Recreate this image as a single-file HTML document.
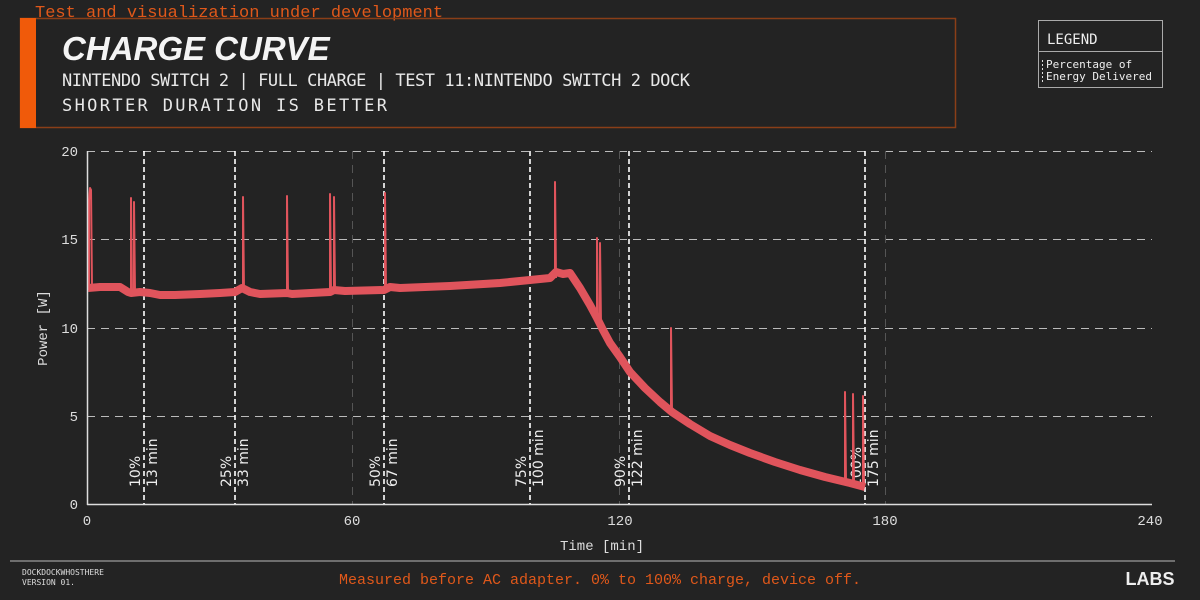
<!DOCTYPE html>
<html><head><meta charset="utf-8"><style>
body{margin:0;background:#232323;width:1200px;height:600px;overflow:hidden;font-family:"DejaVu Sans Mono","Liberation Mono",monospace;}
</style></head><body>
<svg width="1200" height="600" xmlns="http://www.w3.org/2000/svg" style="position:absolute;left:0;top:0">
<rect width="1200" height="600" fill="#232323"/>
<text x="35" y="17" fill="#e0581a" font-family="Liberation Mono,monospace" font-size="17">Test and visualization under development</text>
<rect x="20.5" y="18.5" width="935" height="109" fill="none" stroke="#8a3e18" stroke-width="1.5"/>
<rect x="20" y="18" width="16" height="110" fill="#f05a0a"/>
<text x="62" y="60" fill="#f4f4f4" font-family="Liberation Sans,sans-serif" font-weight="bold" font-style="italic" font-size="33">CHARGE CURVE</text>
<text x="62" y="86" fill="#e8e8e8" font-family="DejaVu Sans Mono,monospace" font-size="17" textLength="628">NINTENDO SWITCH 2 | FULL CHARGE | TEST 11:NINTENDO SWITCH 2 DOCK</text>
<text x="62" y="111" fill="#e8e8e8" font-family="DejaVu Sans Mono,monospace" font-size="17" textLength="327" letter-spacing="2">SHORTER DURATION IS BETTER</text>
<rect x="1038.5" y="20.5" width="124" height="67" fill="none" stroke="#aaa" stroke-width="1"/>
<line x1="1038" y1="51.5" x2="1163" y2="51.5" stroke="#aaa"/>
<text x="1047" y="44" fill="#eee" font-size="14">LEGEND</text>
<line x1="1042.5" y1="60" x2="1042.5" y2="82" stroke="#ddd" stroke-dasharray="2,2"/>
<text x="1046" y="68" fill="#eee" font-size="11">Percentage of</text>
<text x="1046" y="80" fill="#eee" font-size="11">Energy Delivered</text>
<g stroke="#bbb" stroke-width="1" stroke-dasharray="8,6">
<line x1="87" y1="151.5" x2="1152" y2="151.5"/><line x1="87" y1="239.5" x2="1152" y2="239.5"/><line x1="87" y1="328.5" x2="1152" y2="328.5"/><line x1="87" y1="416.5" x2="1152" y2="416.5"/>
</g>
<g stroke="#555" stroke-width="1" stroke-dasharray="8,6">
<line x1="352.5" y1="151" x2="352.5" y2="504"/><line x1="619.5" y1="151" x2="619.5" y2="504"/><line x1="885.5" y1="151" x2="885.5" y2="504"/>
</g>
<g stroke="#fff" stroke-width="1.6" stroke-dasharray="5,3">
<line x1="144" y1="151" x2="144" y2="504"/><line x1="235" y1="151" x2="235" y2="504"/><line x1="384" y1="151" x2="384" y2="504"/><line x1="530" y1="151" x2="530" y2="504"/><line x1="629" y1="151" x2="629" y2="504"/><line x1="865" y1="151" x2="865" y2="504"/>
</g>
<g fill="#eee" font-family="DejaVu Sans,sans-serif" font-size="14">
<text transform="translate(140,487) rotate(-90)">10%</text><text transform="translate(157,487) rotate(-90)">13 min</text>
<text transform="translate(231,487) rotate(-90)">25%</text><text transform="translate(248,487) rotate(-90)">33 min</text>
<text transform="translate(380,487) rotate(-90)">50%</text><text transform="translate(397,487) rotate(-90)">67 min</text>
<text transform="translate(526,487) rotate(-90)">75%</text><text transform="translate(543,487) rotate(-90)">100 min</text>
<text transform="translate(625,487) rotate(-90)">90%</text><text transform="translate(642,487) rotate(-90)">122 min</text>
<text transform="translate(861,487) rotate(-90)">100%</text><text transform="translate(878,487) rotate(-90)">175 min</text>
</g>
<g fill="none" stroke="#e0545c" stroke-linejoin="round">
<polyline stroke-width="8" points="88,288 100,287 120,287 128,292 131,293 140,292 150,293 160,295 175,295 200,294 220,293 235,292 242,288 250,292 260,294 287,293 292,294 330,292 334,290 345,291 384,290 390,287 400,288 450,286 500,283 530,280 550,278 556,272 563,274 570,273 580,288 590,305 597,318 603,330 610,343 620,357 630,372 645,388 660,402 672,412 690,424 710,436 730,445 750,453 775,462 800,470 825,477 850,483 865,487"/>
<g stroke-width="2">
<polyline points="89,290 89,200 90,188 91,190 92,288"/>
<polyline points="131,292 131,198 132,292"/><polyline points="134,292 134,202 135,292"/>
<polyline points="243,292 243,197 244,292"/><polyline points="287,293 287,196 288,293"/>
<polyline points="330,292 330,194 331,292"/><polyline points="334,292 334,197 335,292"/>
<polyline points="385,290 385,193 386,290"/><polyline points="555,278 555,182 556,278"/>
<polyline points="597,320 597,238 598,320"/><polyline points="600,324 600,243 601,324"/>
<polyline points="671,412 671,328 672,412"/><polyline points="845,482 845,392 846,482"/>
<polyline points="853,484 853,394 854,484"/><polyline points="863,487 863,396 864,487"/>
</g></g>
<line x1="87.5" y1="151" x2="87.5" y2="505" stroke="#ddd" stroke-width="1.5"/>
<line x1="87" y1="504.5" x2="1152" y2="504.5" stroke="#ddd" stroke-width="1.5"/>
<g fill="#ddd" font-family="Liberation Mono,monospace" font-size="14" text-anchor="end">
<text x="78" y="156">20</text><text x="78" y="244">15</text><text x="78" y="333">10</text><text x="78" y="421">5</text><text x="78" y="509">0</text>
</g>
<g fill="#ddd" font-family="Liberation Mono,monospace" font-size="14" text-anchor="middle">
<text x="87" y="525">0</text><text x="352" y="525">60</text><text x="620" y="525">120</text><text x="885" y="525">180</text><text x="1150" y="525">240</text>
<text x="602" y="550">Time [min]</text>
</g>
<text transform="translate(47,328) rotate(-90)" fill="#ddd" font-family="Liberation Mono,monospace" font-size="14" text-anchor="middle">Power [W]</text>
<line x1="10" y1="561" x2="1175" y2="561" stroke="#888" stroke-width="1.5"/>
<text x="22" y="575" fill="#ddd" font-size="8">DOCKDOCKWHOSTHERE</text>
<text x="22" y="585" fill="#ddd" font-size="8">VERSION 01.</text>
<text x="600" y="584" fill="#e0581a" font-family="Liberation Mono,monospace" font-size="15" text-anchor="middle">Measured before AC adapter. 0% to 100% charge, device off.</text>
<text x="1150" y="585" fill="#eee" font-family="Liberation Sans,sans-serif" font-weight="bold" font-size="18" text-anchor="middle">LABS</text>
</svg>
</body></html>
